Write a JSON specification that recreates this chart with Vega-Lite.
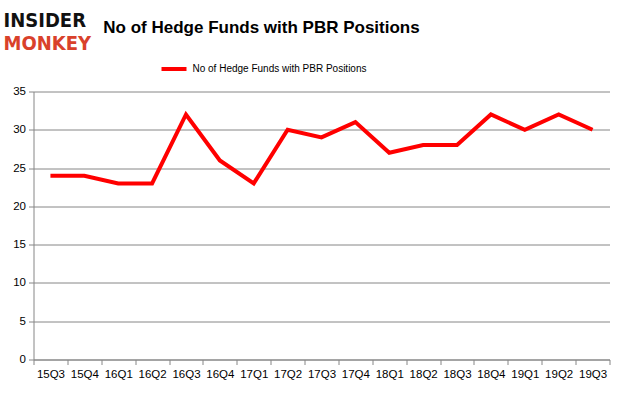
{
  "$schema": "https://vega.github.io/schema/vega-lite/v6.json",
  "width": 576,
  "height": 268,
  "autosize": {"type": "none"},
  "padding": {"left": 33.5, "top": 91.5, "right": 15.5, "bottom": 35.5},
  "background": "white",
  "title": {
    "text": "No of Hedge Funds with PBR Positions",
    "anchor": "middle",
    "frame": "group",
    "dx": -60,
    "offset": 17,
    "dy": 44,
    "font": "Liberation Sans",
    "fontSize": 17,
    "fontWeight": "bold",
    "color": "#000000"
  },
  "data": {
    "values": [
      {"q": "15Q3", "n": 24},
      {"q": "15Q4", "n": 24},
      {"q": "16Q1", "n": 23},
      {"q": "16Q2", "n": 23},
      {"q": "16Q3", "n": 32},
      {"q": "16Q4", "n": 26},
      {"q": "17Q1", "n": 23},
      {"q": "17Q2", "n": 30},
      {"q": "17Q3", "n": 29},
      {"q": "17Q4", "n": 31},
      {"q": "18Q1", "n": 27},
      {"q": "18Q2", "n": 28},
      {"q": "18Q3", "n": 28},
      {"q": "18Q4", "n": 32},
      {"q": "19Q1", "n": 30},
      {"q": "19Q2", "n": 32},
      {"q": "19Q3", "n": 30}
    ]
  },
  "mark": {"type": "line", "strokeWidth": 4, "strokeJoin": "miter"},
  "encoding": {
    "x": {
      "field": "q",
      "type": "ordinal",
      "sort": null,
      "scale": {"type": "band", "paddingInner": 0, "paddingOuter": 0},
      "axis": {
        "title": "INSIDER",
        "titleX": -30.5,
        "titleY": -333.5,
        "titleAlign": "left",
        "titleBaseline": "alphabetic",
        "titleAnchor": null,
        "titleFont": "DejaVu Sans Condensed",
        "titleFontSize": 20,
        "titleFontWeight": "bold",
        "titleColor": "#111111",
        "labelAngle": 0,
        "labelFont": "Liberation Sans",
        "labelFontSize": 11.5,
        "labelColor": "#000000",
        "labelPadding": 4,
        "tickBand": "extent",
        "tickSize": 5,
        "tickColor": "#868686",
        "domainColor": "#868686",
        "grid": false
      }
    },
    "y": {
      "field": "n",
      "type": "quantitative",
      "scale": {"domain": [0, 35]},
      "axis": {
        "values": [0, 5, 10, 15, 20, 25, 30, 35],
        "title": "MONKEY",
        "titleAngle": 0,
        "titleX": -30.5,
        "titleY": -42,
        "titleAlign": "left",
        "titleBaseline": "alphabetic",
        "titleAnchor": null,
        "titleFont": "DejaVu Sans Condensed",
        "titleFontSize": 20,
        "titleFontWeight": "bold",
        "titleColor": "#d9412b",
        "labelFont": "Liberation Sans",
        "labelFontSize": 11.5,
        "labelColor": "#000000",
        "labelPadding": 3,
        "tickSize": 5,
        "tickColor": "#868686",
        "domainColor": "#868686",
        "gridColor": "#868686",
        "gridWidth": 1
      }
    },
    "color": {
      "datum": "No of Hedge Funds with PBR Positions",
      "scale": {"range": ["#ff0000"]},
      "legend": {
        "title": null,
        "orient": "none",
        "legendX": 126,
        "legendY": -37,
        "symbolType": "stroke",
        "symbolStrokeWidth": 4,
        "symbolSize": 625,
        "labelFont": "Liberation Sans",
        "labelFontSize": 10,
        "labelLimit": 400,
        "labelColor": "#000000"
      }
    }
  },
  "config": {
    "view": {"stroke": null}
  }
}
